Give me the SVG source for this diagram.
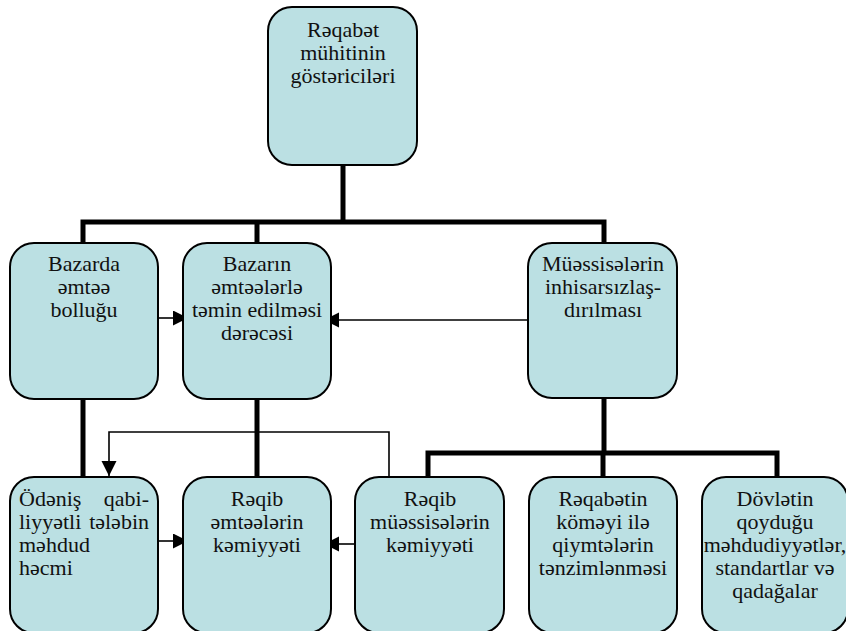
<svg xmlns="http://www.w3.org/2000/svg" width="846" height="631" viewBox="0 0 846 631">
<style>
.box{fill:#BBE0E3;stroke:#000;stroke-width:2}
.thick{fill:none;stroke:#000;stroke-width:5}
.thin{fill:none;stroke:#000;stroke-width:1.6}
</style>
<defs>
<marker id="ah" markerUnits="userSpaceOnUse" markerWidth="16" markerHeight="16" refX="15" refY="7.5" orient="auto">
<path d="M0,0 L15,7.5 L0,15 Z" fill="#000"/>
</marker>
</defs>
<rect width="846" height="631" fill="#fff"/>
<g id="connectors">
<polyline class="thick" points="343,165 343,222"/>
<polyline class="thick" points="83,243 83,222 604,222 604,243"/>
<polyline class="thick" points="257,222 257,243"/>
<polyline class="thick" points="83,398 83,477"/>
<polyline class="thick" points="257,398 257,477"/>
<polyline class="thick" points="604,398 604,453"/>
<polyline class="thick" points="428,477 428,453 777,453 777,477"/>
<polyline class="thick" points="603,453 603,477"/>
<line class="thin" x1="158" y1="318" x2="188" y2="318" marker-end="url(#ah)"/>
<line class="thin" x1="528" y1="320" x2="324" y2="320" marker-end="url(#ah)"/>
<polyline class="thin" points="389,477 389,432 109,432 109,476" marker-end="url(#ah)"/>
<line class="thin" x1="158" y1="541" x2="188" y2="541" marker-end="url(#ah)"/>
<line class="thin" x1="355" y1="544" x2="324" y2="544" marker-end="url(#ah)"/>
</g>
<g font-family="Liberation Serif, serif" font-size="22" fill="#111" text-anchor="middle">
<g id="n-top">
<rect class="box" x="268" y="7" width="149" height="158" rx="24"/>
<text x="343" y="37">Rəqabət</text>
<text x="343" y="60">mühitinin</text>
<text x="343" y="83">göstəriciləri</text>
</g>
<g id="n-bazarda">
<rect class="box" x="10" y="243" width="148" height="156" rx="24"/>
<text x="84" y="271">Bazarda</text>
<text x="84" y="294">əmtəə</text>
<text x="84" y="317">bolluğu</text>
</g>
<g id="n-bazarin">
<rect class="box" x="183" y="243" width="148" height="156" rx="24"/>
<text x="257" y="271">Bazarın</text>
<text x="257" y="294">əmtəələrlə</text>
<text x="257" y="317">təmin edilməsi</text>
<text x="257" y="340">dərəcəsi</text>
</g>
<g id="n-muessiseler">
<rect class="box" x="528" y="243" width="149" height="155" rx="24"/>
<text x="603" y="271">Müəssisələrin</text>
<text x="603" y="294">inhisarsızlaş-</text>
<text x="603" y="317">dırılması</text>
</g>
<g id="n-odenis">
<rect class="box" x="10" y="477" width="148" height="156" rx="24"/>
<text x="19" y="506" text-anchor="start">Ödəniş</text>
<text x="149" y="506" text-anchor="end">qabi-</text>
<text x="19" y="529" text-anchor="start">liyyətli</text>
<text x="149" y="529" text-anchor="end">tələbin</text>
<text x="19" y="552" text-anchor="start">məhdud</text>
<text x="19" y="575" text-anchor="start">həcmi</text>
</g>
<g id="n-reqib-emteeler">
<rect class="box" x="183" y="477" width="148" height="156" rx="24"/>
<text x="257" y="506">Rəqib</text>
<text x="257" y="529">əmtəələrin</text>
<text x="257" y="552">kəmiyyəti</text>
</g>
<g id="n-reqib-muessiseler">
<rect class="box" x="355" y="477" width="149" height="156" rx="24"/>
<text x="430" y="506">Rəqib</text>
<text x="430" y="529">müəssisələrin</text>
<text x="430" y="552">kəmiyyəti</text>
</g>
<g id="n-reqabetin">
<rect class="box" x="529" y="477" width="148" height="156" rx="24"/>
<text x="603" y="506">Rəqabətin</text>
<text x="603" y="529">köməyi ilə</text>
<text x="603" y="552">qiymtələrin</text>
<text x="603" y="575">tənzimlənməsi</text>
</g>
<g id="n-dovletin">
<rect class="box" x="702" y="477" width="146" height="156" rx="24"/>
<text x="775" y="506">Dövlətin</text>
<text x="775" y="529">qoyduğu</text>
<text x="775" y="552">məhdudiyyətlər,</text>
<text x="775" y="575">standartlar və</text>
<text x="775" y="598">qadağalar</text>
</g>
</g>
</svg>
